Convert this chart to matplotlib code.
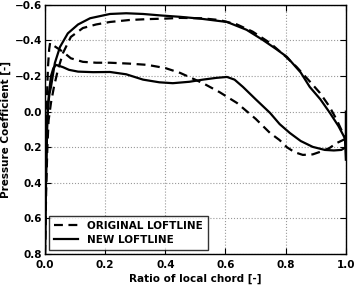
import matplotlib
matplotlib.use("Agg")
import matplotlib.pyplot as plt

# ORIGINAL LOFTLINE (dashed)
orig_upper_x = [0.0, 0.004, 0.008, 0.012, 0.02, 0.03, 0.043, 0.06, 0.086, 0.126, 0.17, 0.216, 0.28, 0.34, 0.40, 0.45, 0.52, 0.58, 0.638, 0.69, 0.748, 0.80, 0.837, 0.88, 0.914, 0.945, 0.97, 0.99, 1.0]
orig_upper_cp = [0.8, 0.45, 0.2, 0.05, -0.05, -0.14, -0.235, -0.33, -0.42, -0.47, -0.49, -0.504, -0.515, -0.52, -0.523, -0.527, -0.525, -0.515, -0.49, -0.45, -0.386, -0.31, -0.25, -0.17, -0.105, -0.03, 0.047, 0.12, 0.16]
orig_lower_x = [0.0, 0.003, 0.006, 0.01, 0.014, 0.017, 0.03, 0.06, 0.086, 0.126, 0.17, 0.216, 0.28, 0.34, 0.40, 0.449, 0.525, 0.58, 0.638, 0.70, 0.748, 0.78, 0.804, 0.83, 0.857, 0.89, 0.914, 0.945, 0.97, 0.99, 1.0]
orig_lower_cp = [0.8, 0.3, -0.05, -0.25, -0.35, -0.386, -0.37, -0.336, -0.30, -0.28, -0.275, -0.275, -0.27, -0.263, -0.245, -0.218, -0.16, -0.11, -0.049, 0.04, 0.12, 0.16, 0.2, 0.228, 0.243, 0.24, 0.226, 0.205, 0.176, 0.16, 0.15]

# NEW LOFTLINE (solid)
new_upper_x = [0.0, 0.003, 0.006, 0.01, 0.015, 0.02, 0.033, 0.05, 0.076, 0.11, 0.15, 0.216, 0.27, 0.326, 0.39, 0.449, 0.52, 0.605, 0.67, 0.724, 0.77, 0.804, 0.85, 0.88, 0.915, 0.947, 0.975, 0.997, 1.0]
new_upper_cp = [0.8, 0.4, 0.1, -0.03, -0.1, -0.139, -0.274, -0.364, -0.44, -0.49, -0.525, -0.549, -0.553, -0.549, -0.54, -0.533, -0.522, -0.504, -0.46, -0.403, -0.35, -0.308, -0.22, -0.139, -0.07, 0.007, 0.08, 0.15, 0.27]
new_lower_x = [0.0, 0.004, 0.008, 0.013, 0.02, 0.028, 0.037, 0.06, 0.08, 0.11, 0.16, 0.216, 0.27, 0.326, 0.38, 0.425, 0.48, 0.525, 0.57, 0.605, 0.63, 0.658, 0.70, 0.748, 0.78, 0.814, 0.85, 0.89, 0.93, 0.96, 0.985, 1.0, 1.0]
new_lower_cp = [0.8, 0.35, 0.05, -0.1, -0.2, -0.245, -0.263, -0.25, -0.235, -0.225, -0.222, -0.223, -0.21, -0.18, -0.165, -0.16, -0.168, -0.18, -0.19, -0.195, -0.18, -0.139, -0.07, 0.007, 0.07, 0.12, 0.165, 0.198, 0.215, 0.218, 0.215, 0.2, 0.0]

x_ticks = [0.0, 0.2, 0.4, 0.6, 0.8, 1.0]
y_ticks = [-0.6, -0.4, -0.2, 0.0, 0.2, 0.4, 0.6, 0.8]

fig = plt.figure(figsize=(3.54, 2.88), dpi=100)
ax = fig.add_axes([0.127, 0.118, 0.85, 0.865])

ax.plot(orig_upper_x, orig_upper_cp, color="black", lw=1.6, ls=(0, (4, 2.5)), label="ORIGINAL LOFTLINE")
ax.plot(orig_lower_x, orig_lower_cp, color="black", lw=1.6, ls=(0, (4, 2.5)))
ax.plot(new_upper_x, new_upper_cp, color="black", lw=1.6, ls="-", label="NEW LOFTLINE")
ax.plot(new_lower_x, new_lower_cp, color="black", lw=1.6, ls="-")

ax.set_xlim(0.0, 1.0)
ax.set_ylim(0.8, -0.6)
ax.set_xticks(x_ticks)
ax.set_yticks(y_ticks)
ax.set_xticklabels([f"{v:.1f}" for v in x_ticks], fontsize=7.5, fontweight="semibold")
ax.set_yticklabels([f"{v:.1f}".replace("-", "\u2212") for v in y_ticks], fontsize=7.5, fontweight="semibold")
ax.grid(True, color="#999999", ls=":", lw=0.8)
ax.tick_params(direction="in", length=4, width=0.8, top=True, right=True)
ax.tick_params(axis="y", pad=2)
ax.tick_params(axis="x", pad=4)
for s in ax.spines.values():
    s.set_linewidth(1.0)
ax.set_xlabel("Ratio of local chord [-]", fontsize=7.5, fontweight="semibold", labelpad=3)
ax.set_ylabel("Pressure Coefficient [-]", fontsize=7.5, fontweight="semibold", labelpad=3)

leg = ax.legend(loc="lower left", frameon=True, fancybox=False, handlelength=2.3,
                borderpad=0.5, labelspacing=0.35, borderaxespad=0.4,
                prop={"weight": "semibold", "size": 7.5})
leg.get_frame().set_edgecolor("black")
leg.get_frame().set_linewidth(1.0)

fig.savefig("out.png", dpi=100)
